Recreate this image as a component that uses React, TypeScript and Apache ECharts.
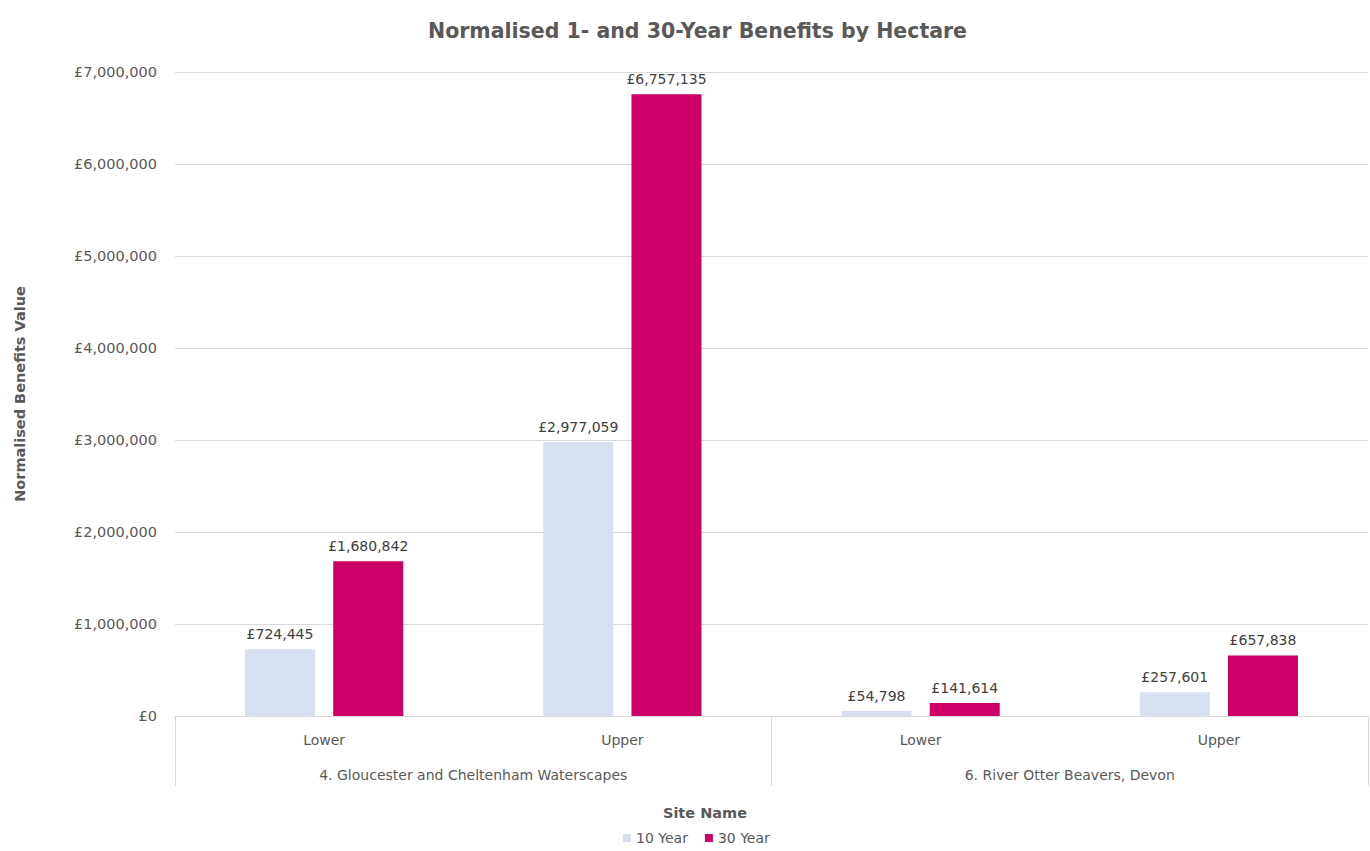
import React, { useEffect, useRef } from "react";
import * as echarts from "echarts";

const subCategories = ["Lower", "Upper", "Lower", "Upper"];
const sites = ["4. Gloucester and Cheltenham Waterscapes", "6. River Otter Beavers, Devon"];
const year10 = [724445, 2977059, 54798, 257601];
const year30 = [1680842, 6757135, 141614, 657838];
const seriesNames = ["10 Year", "30 Year"];
const yTicks = { min: 0, max: 7000000, interval: 1000000 };

const fmt = (v: number) => "£" + Math.round(v).toLocaleString("en-GB");
const FONT = "DejaVu Sans";
const GREY = "#595959";

export default function App() {
  const ref = useRef<HTMLDivElement>(null);
  useEffect(() => {
    if (!ref.current) return;
    const chart = echarts.init(ref.current, undefined, { renderer: "svg" });
    chart.setOption({
      animation: false,
      backgroundColor: "#ffffff",
      textStyle: { fontFamily: FONT },
      title: {
        text: "Normalised 1- and 30-Year Benefits by Hectare",
        left: 423,
        top: 15,
        textStyle: { fontSize: 20.5, fontWeight: "bold", color: GREY, fontFamily: FONT },
      },
      legend: {
        data: seriesNames,
        bottom: 1,
        left: 618,
        itemWidth: 8,
        itemHeight: 8,
        itemGap: 17,
        icon: "rect",
        textStyle: { fontSize: 14, color: GREY, fontFamily: FONT },
      },
      graphic: [
        {
          type: "text",
          x: 705,
          y: 813,
          style: {
            text: "Site Name",
            align: "center",
            verticalAlign: "middle",
            fill: GREY,
            font: `bold 14.5px "${FONT}"`,
          },
        },
      ],
      grid: { left: 175, right: 2, top: 72, bottom: 135, containLabel: false },
      xAxis: [
        {
          type: "category",
          data: subCategories,
          position: "bottom",
          axisLine: { show: true, lineStyle: { color: "#d9d9d9" } },
          axisTick: { show: false },
          axisLabel: { fontSize: 14, color: GREY, margin: 17, fontFamily: FONT },
        },
        {
          type: "category",
          data: sites,
          position: "bottom",
          axisLine: { show: false },
          axisTick: { show: true, length: 70, interval: 0, lineStyle: { color: "#d9d9d9" } },
          axisLabel: { fontSize: 14, color: GREY, margin: 52, fontFamily: FONT },
        },
      ],
      yAxis: {
        type: "value",
        min: yTicks.min,
        max: yTicks.max,
        interval: yTicks.interval,
        name: "Normalised Benefits Value",
        nameLocation: "middle",
        nameGap: 148,
        nameRotate: 90,
        nameTextStyle: { fontSize: 14.5, fontWeight: "bold", color: GREY, fontFamily: FONT },
        axisLine: { show: false },
        axisTick: { show: false },
        splitLine: { lineStyle: { color: "#d9d9d9", width: 1 } },
        axisLabel: { formatter: (v: number) => fmt(v), fontSize: 14.5, color: GREY, margin: 18, fontFamily: FONT },
      },
      series: [
        {
          name: seriesNames[0],
          type: "bar",
          xAxisIndex: 0,
          data: year10,
          barWidth: 70,
          barGap: "26%",
          itemStyle: { color: "#d6e0f0" },
          label: { show: true, position: "top", distance: 8, formatter: (p: any) => fmt(p.value), fontSize: 14, color: "#404040", fontFamily: FONT },
        },
        {
          name: seriesNames[1],
          type: "bar",
          xAxisIndex: 0,
          data: year30,
          barWidth: 70,
          barGap: "26%",
          itemStyle: { color: "#cc0066" },
          label: { show: true, position: "top", distance: 8, formatter: (p: any) => fmt(p.value), fontSize: 14, color: "#404040", fontFamily: FONT },
        },
      ],
    });
    return () => chart.dispose();
  }, []);
  return <div ref={ref} style={{ position: "fixed", left: 0, top: 0, width: 1370, height: 851 }} />;
}
